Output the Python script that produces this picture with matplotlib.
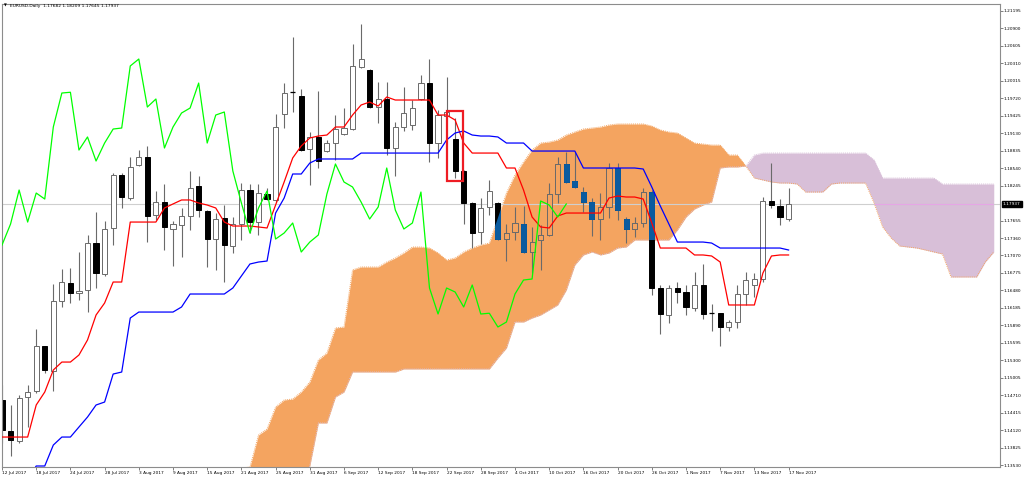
import numpy as np
import pandas as pd
import matplotlib
matplotlib.use("Agg")
import matplotlib.pyplot as plt
from matplotlib.patches import Rectangle
from matplotlib.transforms import blended_transform_factory

# Daily EURUSD candles, 12 Jul 2017 .. 17 Nov 2017
opens = [1.14632, 1.14109, 1.13941, 1.14683, 1.14784, 1.15543, 1.15121, 1.16301, 1.16604, 1.16435,
         1.16486, 1.17278, 1.16757, 1.17532, 1.18425, 1.18037, 1.18594, 1.18729, 1.17751, 1.17970,
         1.17515, 1.17582, 1.17734, 1.18240, 1.17818, 1.17346, 1.17700, 1.17228, 1.17599, 1.18172,
         1.17632, 1.18105, 1.18004, 1.19453, 1.19824, 1.19757, 1.18863, 1.19066, 1.18829, 1.18964,
         1.19116, 1.19200, 1.20246, 1.20195, 1.19571, 1.19706, 1.18880, 1.19234, 1.19268, 1.19706,
         1.19975, 1.18964, 1.19419, 1.19032, 1.18492, 1.17953, 1.17464, 1.17886, 1.17953, 1.17346,
         1.17464, 1.17599, 1.17127, 1.17329, 1.17414, 1.18105, 1.18611, 1.18324, 1.18138, 1.17970,
         1.17683, 1.17886, 1.18543, 1.17683, 1.17515, 1.17616, 1.18138, 1.16520, 1.16065, 1.16520,
         1.16453, 1.16183, 1.16571, 1.16099, 1.16099, 1.15863, 1.15947, 1.16419, 1.16571, 1.16672,
         1.17987, 1.17902, 1.17682]
highs = [1.14885, 1.14548, 1.14717, 1.14885, 1.15829, 1.15543, 1.16588, 1.16840, 1.16857, 1.17127,
         1.17414, 1.17801, 1.17649, 1.18459, 1.18459, 1.18729, 1.18846, 1.18914, 1.18155, 1.18273,
         1.17649, 1.17869, 1.18492, 1.18408, 1.17835, 1.17784, 1.17919, 1.17717, 1.18290, 1.18273,
         1.18273, 1.18206, 1.19453, 1.19975, 1.20751, 1.19875, 1.19150, 1.19841, 1.19015, 1.19436,
         1.19554, 1.20633, 1.20970, 1.20212, 1.19993, 1.19993, 1.19318, 1.19908, 1.19689, 1.20111,
         1.20380, 1.19521, 1.20077, 1.19386, 1.18509, 1.17970, 1.18037, 1.18341, 1.17970, 1.17599,
         1.17886, 1.17902, 1.17549, 1.17582, 1.18290, 1.18729, 1.18812, 1.18812, 1.18223, 1.18037,
         1.18121, 1.18627, 1.18627, 1.17717, 1.17717, 1.18206, 1.18172, 1.16571, 1.16571, 1.16621,
         1.16571, 1.16790, 1.16925, 1.16250, 1.16099, 1.15981, 1.16571, 1.16790, 1.16773, 1.18054,
         1.18627, 1.18020, 1.18209]
lows = [1.13907, 1.13688, 1.13907, 1.14177, 1.14750, 1.15087, 1.14784, 1.16200, 1.16267, 1.16318,
        1.16115, 1.16520, 1.16723, 1.17245, 1.17869, 1.18004, 1.18577, 1.17295, 1.17666, 1.17161,
        1.16891, 1.17043, 1.17498, 1.17717, 1.16874, 1.16824, 1.16621, 1.17110, 1.17329, 1.17447,
        1.17414, 1.18004, 1.17970, 1.19217, 1.19487, 1.18829, 1.18257, 1.18543, 1.18812, 1.18678,
        1.19099, 1.19184, 1.20229, 1.19554, 1.19302, 1.18762, 1.18408, 1.19167, 1.19184, 1.19689,
        1.18644, 1.18712, 1.19403, 1.18374, 1.17599, 1.17194, 1.17262, 1.17751, 1.17329, 1.16975,
        1.17329, 1.17110, 1.16773, 1.16824, 1.17397, 1.17953, 1.18290, 1.18206, 1.17801, 1.17397,
        1.17329, 1.17700, 1.17666, 1.17278, 1.17380, 1.17549, 1.16402, 1.15745, 1.15930, 1.16267,
        1.16065, 1.16132, 1.15998, 1.15795, 1.15543, 1.15795, 1.15846, 1.16234, 1.16368, 1.16621,
        1.17869, 1.17582, 1.17645]
closes = [1.14126, 1.13958, 1.14666, 1.14767, 1.15543, 1.15138, 1.16301, 1.16621, 1.16435, 1.16469,
          1.17278, 1.16773, 1.17515, 1.18425, 1.18054, 1.18560, 1.18729, 1.17734, 1.17970, 1.17549,
          1.17599, 1.17734, 1.18206, 1.17835, 1.17346, 1.17683, 1.17245, 1.17599, 1.18172, 1.17632,
          1.18121, 1.18020, 1.19234, 1.19807, 1.19820, 1.18846, 1.19066, 1.18661, 1.18964, 1.19200,
          1.19217, 1.20263, 1.20380, 1.19571, 1.19706, 1.18880, 1.19234, 1.19470, 1.19554, 1.19975,
          1.18964, 1.19436, 1.19487, 1.18492, 1.17953, 1.17447, 1.17869, 1.18155, 1.17346, 1.17447,
          1.17616, 1.17127, 1.17295, 1.17414, 1.18105, 1.18611, 1.18307, 1.18223, 1.17970, 1.17683,
          1.17886, 1.18543, 1.17835, 1.17515, 1.17616, 1.18138, 1.16520, 1.16082, 1.16520, 1.16453,
          1.16200, 1.16571, 1.16082, 1.16095, 1.15863, 1.15947, 1.16419, 1.16655, 1.16672, 1.17987,
          1.17919, 1.17717, 1.17937]

# Ichimoku lines as drawn
tenkan = ([1.14008] * 4 + [1.14548, 1.14767, 1.15138, 1.15272, 1.15272, 1.15391, 1.15644, 1.16065,
          1.16267, 1.16621, 1.16621] + [1.17632] * 4 +
          [1.17869, 1.17937, 1.18004, 1.18004, 1.17953, 1.17919, 1.17869, 1.17632, 1.17565, 1.17565,
           1.17565, 1.17549, 1.17532, 1.17919, 1.18307, 1.18712, 1.18914, 1.19049, 1.19082, 1.19099,
           1.19234, 1.19234, 1.19436, 1.19605, 1.19655, 1.19588, 1.19740] + [1.19689] * 5 +
          [1.19436, 1.19436, 1.19352, 1.18964] + [1.18795] * 4 +
          [1.18543, 1.18543, 1.18172, 1.17717, 1.17549, 1.17532, 1.17734] + [1.17784] * 5 +
          [1.18037, 1.18071, 1.18054, 1.18054, 1.18020, 1.17616] + [1.17194] * 4 +
          [1.17077, 1.17077, 1.17060, 1.16958] + [1.16234] * 4 +
          [1.16773, 1.17060, 1.17077, 1.17077])
kijun = ([1.13284] * 4 + [1.13520, 1.13520, 1.13873, 1.14008, 1.14008, 1.14177, 1.14345, 1.14548,
         1.14598, 1.15070, 1.15104, 1.16014] + [1.16115] * 5 + [1.16200] + [1.16419] * 5 +
         [1.16520, 1.16723, 1.16925, 1.16958, 1.16975, 1.17784, 1.18037, 1.18442, 1.18442, 1.18627] +
         [1.18695] * 5 + [1.18795] * 10 +
         [1.19015, 1.19133, 1.19167, 1.19099, 1.19082, 1.19082, 1.19066] + [1.18964] * 3 +
         [1.18829] * 6 + [1.18543] * 7 + [1.18526, 1.18223, 1.17902, 1.17599] + [1.17295] * 4 +
         [1.17278] + [1.17194] * 8 + [1.17161])

# Senkou spans, starting at bar 26 and running 24 bars past the last candle
span_start = 26
span_a = ([1.13486] * 3 + [1.13503, 1.14042, 1.14143, 1.14514, 1.14632, 1.14649, 1.14767, 1.14935,
          1.15306, 1.15424, 1.15846, 1.15863, 1.16824, 1.16874, 1.16874, 1.16874, 1.16958, 1.17026,
          1.17110, 1.17211, 1.17211, 1.17194, 1.17110, 1.16992, 1.17026, 1.17127, 1.17194, 1.17245,
          1.17278, 1.17700, 1.18121, 1.18425, 1.18644, 1.18846, 1.18964, 1.18981, 1.19015, 1.19099,
          1.19150, 1.19200, 1.19217, 1.19234, 1.19268, 1.19285, 1.19285, 1.19285, 1.19285, 1.19251,
          1.19184, 1.19150, 1.19133, 1.19049, 1.18964, 1.18947, 1.18930, 1.18930, 1.18762, 1.18762,
          1.18577, 1.18374, 1.18341, 1.18307, 1.18290, 1.18290, 1.18273, 1.18138, 1.18138, 1.18138,
          1.18273, 1.18290, 1.18290, 1.18290, 1.18290, 1.17953, 1.17549, 1.17363, 1.17228, 1.17211,
          1.17194, 1.17161, 1.17127, 1.17093, 1.16706, 1.16706, 1.16706, 1.16706, 1.16958, 1.17127])
span_b = ([1.12610] * 9 + [1.13115, 1.13520, 1.14244, 1.14244, 1.14683, 1.14767] + [1.15104] * 6 +
          [1.15155] * 11 +
          [1.15340, 1.15509, 1.15947, 1.15947, 1.16014, 1.16065, 1.16149, 1.16234, 1.16486, 1.16908,
           1.17077, 1.17127, 1.17077, 1.17110, 1.17194, 1.17211] + [1.17329] * 5 +
          [1.17498, 1.17717, 1.17852, 1.17919, 1.17970, 1.18543, 1.18560, 1.18560, 1.18577, 1.18762] +
          [1.18795] * 13 + [1.18678] + [1.18374] * 7 + [1.18273] * 7)

y_ticks = [1.21195, 1.20900, 1.20605, 1.20310, 1.20015, 1.19720, 1.19425, 1.19130, 1.18835,
           1.18540, 1.18245, 1.17655, 1.17360, 1.17070, 1.16775, 1.16480, 1.16185, 1.15890,
           1.15595, 1.15300, 1.15005, 1.14710, 1.14415, 1.14120, 1.13825, 1.13530]

# red box drawn around the 25 Sep gap candle
box_bar = 53
box_low, box_high = 1.18323, 1.19504

W, H = 1024, 479
o = np.array(opens)
h = np.array(highs)
l = np.array(lows)
c = np.array(closes)
n = len(c)
x = np.arange(n)
dates = pd.bdate_range("2017-07-12", periods=n)

fig = plt.figure(figsize=(W / 100, H / 100), dpi=100)
ax = fig.add_axes([1.5 / W, 1 - 467 / H, 998.5 / W, 463.5 / H])
ax.set_xlim(-0.06, 116.73)
ax.set_ylim(1.13503, 1.21316)

# cloud
xc = np.arange(span_start, span_start + len(span_a))
A = np.array(span_a)
B = np.array(span_b)
orange = ax.fill_between(xc, A, B, where=A >= B, interpolate=True, color="#f4a460", lw=0, zorder=1)
thistle = ax.fill_between(xc, A, B, where=B >= A, interpolate=True, color="#d8bfd8", lw=0, zorder=1)
ax.plot(xc, A, color="#f4a460", lw=0.7, ls=(0, (1, 1)), zorder=1.2)
ax.plot(xc, B, color="#d8bfd8", lw=0.7, ls=(0, (1, 1)), zorder=1.2)
orange_path = orange.get_paths()[0]
thistle_path = thistle.get_paths()[0]

# current price line
last = c[-1]
ax.axhline(last, color="#cfcfcf", lw=0.8, zorder=1.5)
pl = ax.axhline(last, color="#e6a6e6", lw=0.8, zorder=1.6)
pl.set_clip_path(thistle_path, ax.transData)

# candles
bw = 0.6
for i in range(n):
    ax.vlines(i, l[i], h[i], color="#6a6a6a", lw=0.8, zorder=2)
    if abs(c[i] - o[i]) < 1e-4:
        ax.hlines(o[i], i - bw / 2, i + bw / 2, color="black", lw=0.9, zorder=3)
        continue
    bottom = min(o[i], c[i])
    height = abs(c[i] - o[i])
    if c[i] > o[i]:
        base, over, edge = "white", "#f4a460", "#6a6a6a"
    else:
        base, over, edge = "black", "#0b5b9f", "black"
    ax.add_patch(Rectangle((i - bw / 2, bottom), bw, height, facecolor=base,
                           edgecolor=edge, lw=0.7, zorder=2.5))
    r = Rectangle((i - bw / 2, bottom), bw, height, facecolor=over,
                  edgecolor=edge if base == "white" else over, lw=0.7, zorder=2.6)
    ax.add_patch(r)
    r.set_clip_path(orange_path, ax.transData)

# tenkan, kijun, chikou
ax.plot(x, tenkan, color="red", lw=0.9, zorder=4)
ax.plot(x, kijun, color="blue", lw=0.9, zorder=4)
ax.plot(x[:-26], c[26:], color="#00ff00", lw=0.9, zorder=4)

ax.add_patch(Rectangle((box_bar - 0.95, box_low), 1.9, box_high - box_low, fill=False,
                       edgecolor="#ee1c24", lw=1.6, zorder=5))

# axes styling
for s in ax.spines.values():
    s.set_color("#8c8c8c")
    s.set_linewidth(0.8)

ax.yaxis.tick_right()
ax.set_yticks(y_ticks)
ax.set_yticklabels([f"{v:.5f}" for v in y_ticks])
ax.tick_params(axis="y", direction="out", length=2, width=0.6, pad=0.8,
               labelsize=3.1, color="#6a6a6a", labelcolor="black")

ax.set_xticks(x[::4])
ax.set_xticklabels([f"{d.day} {d.strftime('%b %Y')}" for d in dates[::4]])
ax.tick_params(axis="x", direction="out", length=2.2, width=0.6, pad=0.6,
               labelsize=3.1, color="#6a6a6a", labelcolor="black")
for t in ax.get_xticklabels():
    t.set_ha("left")

trans = blended_transform_factory(ax.transAxes, ax.transData)
ax.text(1.003, last, f"{last:.5f}", transform=trans, ha="left", va="center",
        fontsize=3.1, color="white", clip_on=False, zorder=6,
        bbox=dict(boxstyle="square,pad=0.25", fc="black", ec="black"))

fig.text(4 / W, 1 - 5.7 / H, "\u25bc", fontsize=2.6, va="center", ha="left")
fig.text(10 / W, 1 - 5.5 / H,
         f"EURUSD.Daily  {o[-1]:.5f} {h[-1]:.5f} {l[-1]:.5f} {c[-1]:.5f}",
         fontsize=3.2, va="center", ha="left")

fig.savefig("out.png", dpi=100)
